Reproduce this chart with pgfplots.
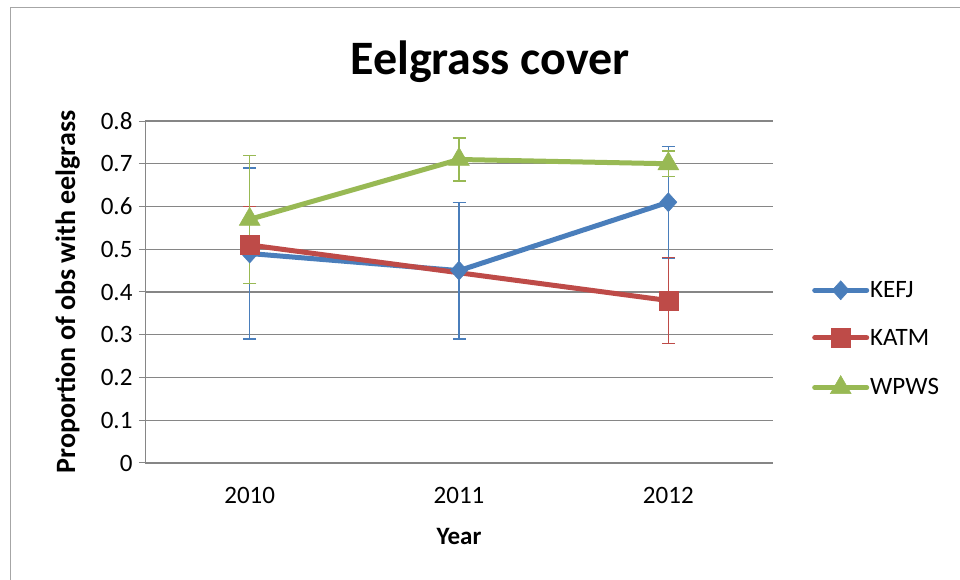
\documentclass[border=0pt]{standalone}
\usepackage{pgfplots}
\pgfplotsset{compat=1.18}
\usepackage{fontspec}
\setmainfont{Carlito}
\definecolor{cblue}{RGB}{74,126,187}
\definecolor{cred}{RGB}{190,75,72}
\definecolor{cgreen}{RGB}{152,185,84}
\definecolor{cgrid}{RGB}{134,134,134}
\begin{document}
\begin{tikzpicture}[x=1pt,y=1pt]
\useasboundingbox (0,0) rectangle (960,580);
\fill[white] (0,0) rectangle (960,580);
\draw[gray!70, line width=1pt] (10,-5) -- (10,572) -- (970,572);
\node[font=\bfseries\fontsize{48}{50}\selectfont] at (490,518) {Eelgrass cover};
\begin{axis}[
  at={(145pt,117pt)}, anchor=south west,
  scale only axis, width=628pt, height=342pt,
  xmin=-0.5, xmax=2.5, ymin=0, ymax=0.8,
  xtick={0,1,2}, xticklabels={2010,2011,2012},
  extra x ticks={-0.5,0.5,1.5,2.5}, extra x tick labels={},
  extra x tick style={major tick length=7pt, tick style={cgrid,line width=1pt}},
  major x tick style={draw=none},
  ytick={0,0.1,...,0.8},
  yticklabels={0,0.1,0.2,0.3,0.4,0.5,0.6,0.7,0.8},
  axis x line*=bottom, axis y line*=left,
  axis line style={cgrid, line width=1pt, -},
  tick align=outside,
  major tick length=6pt,
  ytick style={cgrid, line width=1pt},
  ymajorgrids, grid style={cgrid, line width=1.3pt},
  tick label style={font=\fontsize{25}{27}\selectfont, black},
  xticklabel style={yshift=-15pt},
  yticklabel style={xshift=-3pt},
  xlabel={\bfseries Year}, ylabel={\bfseries Proportion of obs with eelgrass},
  label style={font=\bfseries\fontsize{25}{27}\selectfont},
  ylabel style={font=\bfseries\fontsize{28}{30}\selectfont, yshift=14pt},
  xlabel style={yshift=-4pt},
  legend style={at={(667pt,124pt)}, anchor=west, draw=none, fill=none,
    font=\fontsize{25}{27}\selectfont, row sep=28pt, inner sep=0pt,
    nodes={inner sep=1pt}},
  legend cell align=left,
  legend image code/.code={
    \draw[line width=5pt, line cap=round] (0pt,0pt) -- (52pt,0pt);
    \draw[mark repeat=2,mark phase=2] plot coordinates {(0pt,0pt) (26pt,0pt) (52pt,0pt)};
  },
  clip=false,
]
\addplot[cblue, line width=5pt, mark=diamond*, mark size=9.5pt,
  mark options={solid, fill=cblue, line width=0.5pt, xscale=1.2},
  error bars/.cd, y dir=both, y explicit,
  error bar style={line width=1.4pt, cblue},
  error mark options={rotate=90, mark size=6.5pt, line width=1.4pt, cblue}]
  coordinates {(0,0.49) +- (0,0.20) (1,0.45) +- (0,0.16) (2,0.61) +- (0,0.13)};
\addlegendentry{KEFJ}
\addplot[cred, line width=5pt, mark=square*, mark size=9.5pt,
  mark options={solid, fill=cred, line width=0.5pt},
  error bars/.cd, y dir=both, y explicit,
  error bar style={line width=1.4pt, cred},
  error mark options={rotate=90, mark size=6.5pt, line width=1.4pt, cred}]
  coordinates {(0,0.51) +- (0,0.09) (2,0.38) +- (0,0.10)};
\addlegendentry{KATM}
\addplot[cgreen, line width=5pt, mark=triangle*, mark size=12pt,
  mark options={solid, fill=cgreen, line width=0.5pt},
  error bars/.cd, y dir=both, y explicit,
  error bar style={line width=1.4pt, cgreen},
  error mark options={rotate=90, mark size=6.5pt, line width=1.4pt, cgreen}]
  coordinates {(0,0.57) +- (0,0.15) (1,0.71) +- (0,0.05) (2,0.70) +- (0,0.03)};
\addlegendentry{WPWS}
\end{axis}
\end{tikzpicture}
\end{document}
